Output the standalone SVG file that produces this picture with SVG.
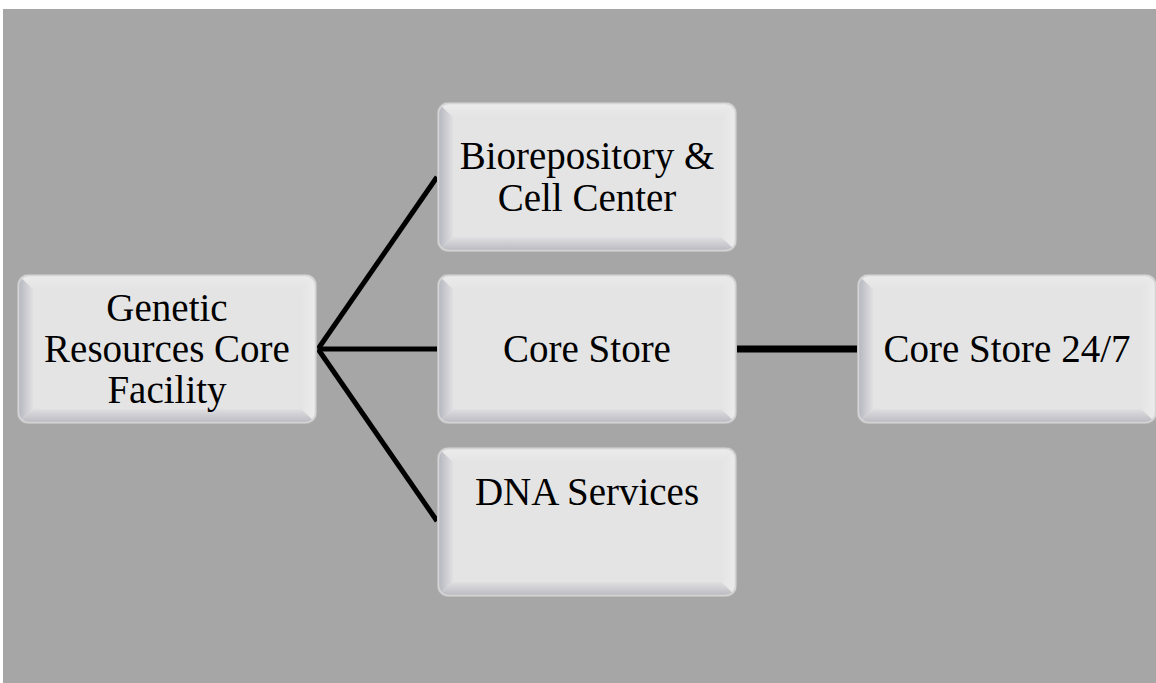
<svg xmlns="http://www.w3.org/2000/svg" xmlns:xlink="http://www.w3.org/1999/xlink" width="1156" height="683" viewBox="0 0 1156 683">
<style>
.lbl{font-family:'Liberation Serif','Times New Roman',serif;font-size:39px;fill:#000;text-anchor:middle}
.conn{stroke:#000;stroke-width:5;fill:none;stroke-linecap:butt}
</style>
<defs>
<linearGradient id="gl" x1="0" y1="0" x2="1" y2="0">
<stop offset="0" stop-color="#b4b4be"/>
<stop offset="1" stop-color="#e0e0e2"/>
</linearGradient>
<linearGradient id="gb" x1="0" y1="0" x2="0" y2="1">
<stop offset="0" stop-color="#e0e0e2"/>
<stop offset="1" stop-color="#b8b8c0"/>
</linearGradient>
<linearGradient id="gt" x1="0" y1="0" x2="0" y2="1">
<stop offset="0" stop-color="#ececec"/>
<stop offset="1" stop-color="#e4e4e4"/>
</linearGradient>
<linearGradient id="gr" x1="0" y1="0" x2="1" y2="0">
<stop offset="0" stop-color="#e4e4e4"/>
<stop offset="1" stop-color="#ececec"/>
</linearGradient>
<clipPath id="bc"><rect x="0" y="0" width="298" height="148" rx="10"/></clipPath>
<g id="box">
<rect x="-1" y="-1" width="300" height="150" rx="11" fill="#b8b8b8"/>
<g clip-path="url(#bc)">
<rect x="0" y="0" width="298" height="148" fill="#e4e4e4"/>
<polygon points="0,0 298,0 283,14 15,14" fill="url(#gt)"/>
<polygon points="298,0 298,148 283,134 283,14" fill="url(#gr)"/>
<polygon points="0,0 15,14 15,134 0,148" fill="url(#gl)"/>
<polygon points="0,148 15,134 283,134 298,148" fill="url(#gb)"/>
</g>
<rect x="0.5" y="0.5" width="297" height="147" rx="10" fill="none" stroke="#d4d4d4" stroke-width="1.5"/>
</g>
</defs>
<rect x="0" y="0" width="1156" height="683" fill="#ffffff"/>
<rect x="3" y="9" width="1153" height="674" fill="#a6a6a6"/>
<g id="connectors">
<line class="conn" x1="318" y1="349" x2="437" y2="177"/>
<line class="conn" x1="318" y1="349" x2="437" y2="349"/>
<line class="conn" x1="318" y1="349" x2="437" y2="521"/>
<line class="conn" x1="737" y1="349" x2="858" y2="349" style="stroke-width:7"/>
</g>
<g id="node-genetic">
<use xlink:href="#box" x="18" y="275"/>
<text class="lbl"><tspan x="167" y="321">Genetic</tspan><tspan x="167" y="362">Resources Core</tspan><tspan x="167" y="403">Facility</tspan></text>
</g>
<g id="node-biorepository">
<use xlink:href="#box" x="438" y="103"/>
<text class="lbl"><tspan x="587" y="169">Biorepository &amp;</tspan><tspan x="587" y="211">Cell Center</tspan></text>
</g>
<g id="node-corestore">
<use xlink:href="#box" x="438" y="275"/>
<text class="lbl" x="587" y="362">Core Store</text>
</g>
<g id="node-dna">
<use xlink:href="#box" x="438" y="448"/>
<text class="lbl" x="587" y="505">DNA Services</text>
</g>
<g id="node-corestore247">
<use xlink:href="#box" x="858" y="275"/>
<text class="lbl" x="1007" y="362">Core Store 24/7</text>
</g>
</svg>
